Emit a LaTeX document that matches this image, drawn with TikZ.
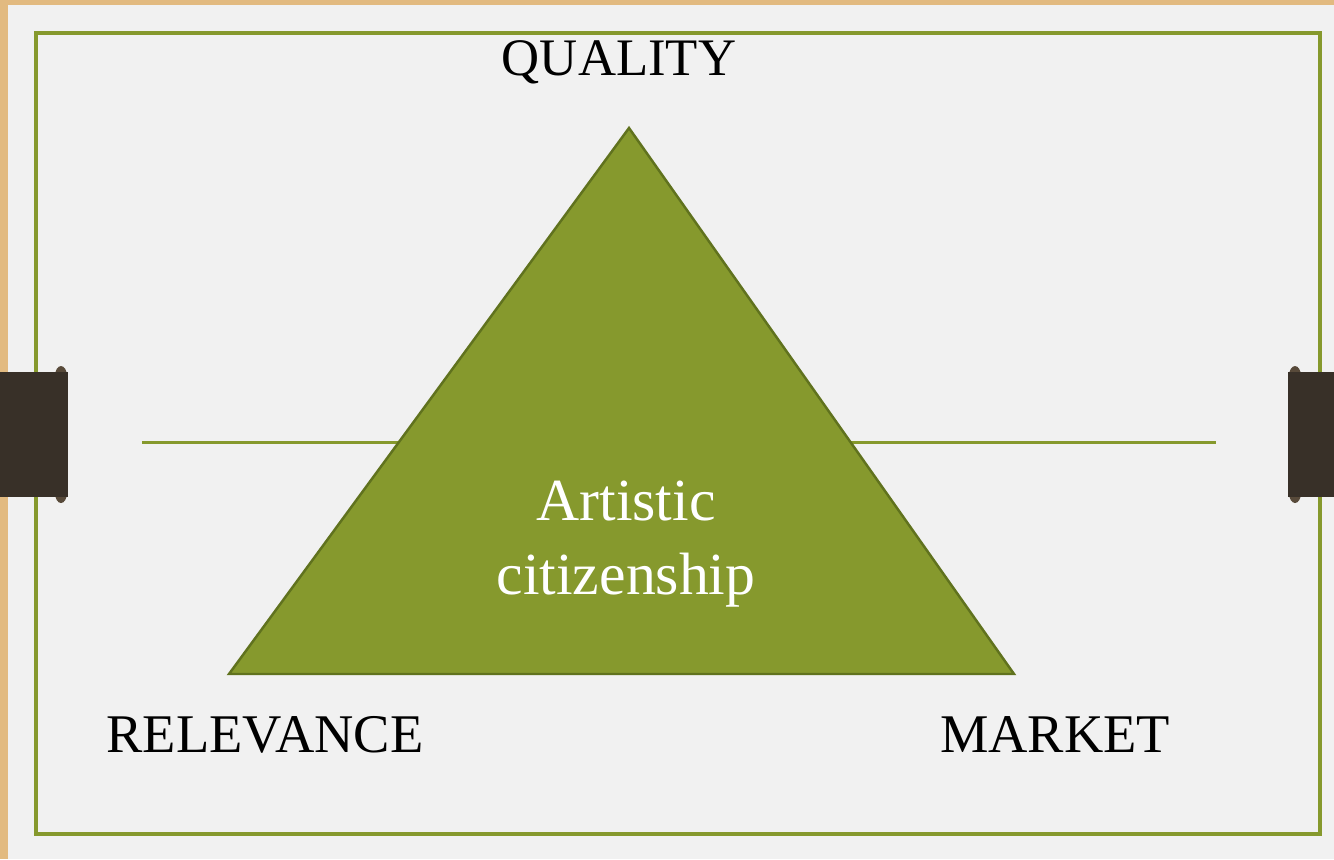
\documentclass[tikz,border=0pt]{standalone}
\usepackage{fontspec}
\setmainfont{Liberation Serif}
\usepackage{tikz}
\definecolor{tan}{RGB}{226,186,128}
\definecolor{paper}{RGB}{241,241,241}
\definecolor{olive}{RGB}{134,153,45}
\definecolor{oliveedge}{RGB}{96,114,30}
\definecolor{tabbrown}{RGB}{56,48,40}
\definecolor{nub}{RGB}{88,74,58}

\begin{document}
\begin{tikzpicture}[x=0.02cm,y=-0.02cm]
\useasboundingbox (0,0) rectangle (1334,859);
% board
\fill[tan] (0,0) rectangle (1334,859);
\fill[paper] (8,5) rectangle (1334,859);
\draw[olive,line width=2.2pt] (36,33) rectangle (1320,834);

% clips
\fill[nub] (61,376) ellipse (6 and 10);
\fill[nub] (61,493) ellipse (6 and 10);
\fill[tabbrown] (0,372) rectangle (68,497);
\fill[nub] (1295,376) ellipse (6 and 10);
\fill[nub] (1295,493) ellipse (6 and 10);
\fill[tabbrown] (1288,372) rectangle (1334,497);

% axis line behind the triangle
\coordinate (lineL) at (142,442);
\coordinate (lineR) at (1216,442);
\draw[olive,line width=1.7pt] (lineL) -- (lineR);

% triangle
\coordinate (top) at (629,128);
\coordinate (bl) at (229,674);
\coordinate (br) at (1014,674);
\draw[fill=olive,draw=oliveedge,line width=1.4pt,line join=miter] (top) -- (br) -- (bl) -- cycle;

\node[font=\fontsize{30}{36}\selectfont] (quality) at (619,62) {QUALITY};
\node[font=\fontsize{31}{36}\selectfont] (relevance) at (265,735) {RELEVANCE};
\node[font=\fontsize{31}{36}\selectfont] (market) at (1055,735) {MARKET};
\node[white,align=center,font=\fontsize{34}{42}\selectfont] (centre) at (626,544) {Artistic\\citizenship};

\end{tikzpicture}
\end{document}
